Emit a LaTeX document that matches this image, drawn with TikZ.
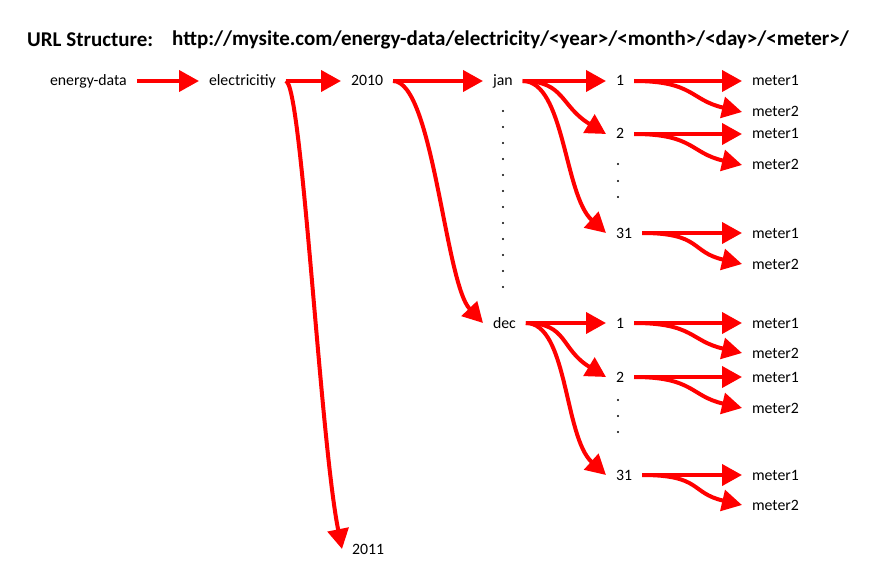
\documentclass[tikz,border=0pt]{standalone}
\usepackage{fontspec}
\setmainfont{Carlito}
\usetikzlibrary{arrows.meta}
\tikzset{
  lbl/.style={font=\fontsize{15.8}{18}\selectfont, inner xsep=10pt, inner ysep=0pt,
    text height=11pt, text depth=1pt, outer sep=0pt, anchor=west},
  ttl/.style={font=\fontsize{21}{24}\selectfont\bfseries, inner sep=0pt, anchor=west},
  arr/.style={draw=red, line width=4pt, -{Triangle[length=20pt,width=21pt]}},
  dotmark/.style={fill=black}
}
\begin{document}
\begin{tikzpicture}[x=1pt,y=-1pt]
\useasboundingbox (0,0) rectangle (888,572);
% title
\node[ttl] (t1) at (27,40) {URL Structure:};
\node[ttl] (t2) at (172,40) {http://mysite.com/energy-data/electricity/<year>/<month>/<day>/<meter>/};
% main chain
\node[lbl] (ed) at (40,81) {energy-data};
\node[lbl] (el) at (199,81) {electricitiy};
\node[lbl] (y10) at (341,81) {2010};
\node[lbl] (y11) at (342,549) {2011};
\node[lbl] (jan) at (483,81) {jan};
\node[lbl] (dec) at (483,323) {dec};
% jan days
\node[lbl] (j1) at (606,81) {1};
\node[lbl] (j2) at (606,134) {2};
\node[lbl] (j31) at (606,233) {31};
% dec days
\node[lbl] (d1) at (606,323) {1};
\node[lbl] (d2) at (606,377) {2};
\node[lbl] (d31) at (606,475) {31};
% meters jan
\node[lbl] (j1a) at (742,81) {meter1};
\node[lbl] (j1b) at (742,112) {meter2};
\node[lbl] (j2a) at (742,134) {meter1};
\node[lbl] (j2b) at (742,165) {meter2};
\node[lbl] (j31a) at (742,233) {meter1};
\node[lbl] (j31b) at (742,264) {meter2};
% meters dec
\node[lbl] (d1a) at (742,323) {meter1};
\node[lbl] (d1b) at (742,353) {meter2};
\node[lbl] (d2a) at (742,377) {meter1};
\node[lbl] (d2b) at (742,408) {meter2};
\node[lbl] (d31a) at (742,475) {meter1};
\node[lbl] (d31b) at (742,505) {meter2};
% dots
\foreach \k in {0,...,11} { \fill[dotmark] (503,{111+16*\k}) circle (1.1pt); }
\foreach \yy in {164,181,197,400,416,432} { \fill[dotmark] (618,\yy) circle (1.1pt); }
% connectors
\draw[arr] (ed.east) -- (el.west);
\draw[arr] (el.east) -- (y10.west);
\draw[arr] (el.east) .. controls +(16,0) and +(-22,-110) .. (y11.west);
\draw[arr] (y10.east) -- (jan.west);
\draw[arr] (y10.east) .. controls +(40,0) and +(-38,-40) .. (dec.west);
\foreach \m/\a/\b/\c in {jan/j1/j2/j31, dec/d1/d2/d31} {
  \draw[arr] (\m.east) -- (\a.west);
  \draw[arr] (\m.east) .. controls +(42,0) and +(-46,-28) .. (\b.west);
  \draw[arr] (\m.east) .. controls +(42,0) and +(-42,-38) .. (\c.west);
}
\foreach \d/\p/\q in {j1/j1a/j1b, j2/j2a/j2b, j31/j31a/j31b, d1/d1a/d1b, d2/d2a/d2b, d31/d31a/d31b} {
  \draw[arr] (\d.east) -- (\p.west);
  \draw[arr] (\d.east) .. controls +(60,0) and +(-52,-12) .. (\q.west);
}
\end{tikzpicture}
\end{document}
